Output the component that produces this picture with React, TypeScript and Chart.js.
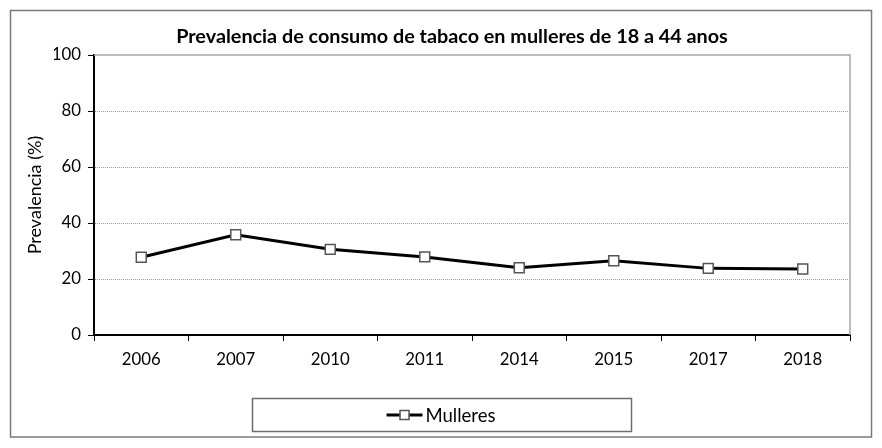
import { useEffect, useRef } from "react";
import { Chart, registerables } from "chart.js";

Chart.register(...registerables);

const categories = ["2006", "2007", "2010", "2011", "2014", "2015", "2017", "2018"];
const mulleres = [27.8, 35.8, 30.6, 27.9, 24.0, 26.5, 23.8, 23.6];
const yTickValues = [0, 20, 40, 60, 80, 100];
const seriesLabel = "Mulleres";
const titleText = "Prevalencia de consumo de tabaco en mulleres de 18 a 44 anos";
const yTitleText = "Prevalencia (%)";

const FONT = "Lato, 'Open Sans', sans-serif";

const framePlugin = {
  id: "frameAndLegend",
  afterDraw(chart: any) {
    const { ctx, chartArea } = chart;
    ctx.save();
    // outer border
    ctx.strokeStyle = "#7a7a7a";
    ctx.lineWidth = 1.5;
    ctx.strokeRect(10.5, 10.5, chart.width - 21, chart.height - 21.5);
    // plot frame top & right
    ctx.strokeStyle = "#a6a6a6";
    ctx.lineWidth = 1.5;
    ctx.beginPath();
    ctx.moveTo(chartArea.left, chartArea.top);
    ctx.lineTo(chartArea.right, chartArea.top);
    ctx.lineTo(chartArea.right, chartArea.bottom);
    ctx.stroke();

    // legend box
    const ds = chart.data.datasets[0];
    const cx = chart.width / 2;
    const boxW = 379;
    const boxH = 33;
    const boxTop = 398.5;
    ctx.strokeStyle = "#6e6e6e";
    ctx.lineWidth = 1.5;
    ctx.strokeRect(Math.round(cx - boxW / 2) + 0.5, boxTop, boxW, boxH);
    const midY = boxTop + boxH / 2;
    ctx.font = `18.5px ${FONT}`;
    const textW = ctx.measureText(ds.label).width;
    const symW = 36;
    const gap = 3;
    const startX = cx - (symW + gap + textW) / 2;
    ctx.strokeStyle = ds.borderColor;
    ctx.lineWidth = ds.borderWidth;
    ctx.beginPath();
    ctx.moveTo(startX, midY);
    ctx.lineTo(startX + symW, midY);
    ctx.stroke();
    ctx.fillStyle = ds.pointBackgroundColor;
    ctx.strokeStyle = ds.pointBorderColor;
    ctx.lineWidth = ds.pointBorderWidth;
    const s = 9;
    ctx.fillRect(startX + symW / 2 - s / 2, midY - s / 2, s, s);
    ctx.strokeRect(startX + symW / 2 - s / 2, midY - s / 2, s, s);
    ctx.fillStyle = "#000";
    ctx.textBaseline = "middle";
    ctx.textAlign = "left";
    ctx.fillText(ds.label, startX + symW + gap, midY + 1);
    ctx.restore();
  },
};

export default function App() {
  const ref = useRef<HTMLCanvasElement | null>(null);

  useEffect(() => {
    if (!ref.current) return;
    const chart = new Chart(ref.current, {
      type: "line",
      data: {
        labels: categories,
        datasets: [
          {
            label: seriesLabel,
            data: mulleres,
            borderColor: "#000000",
            borderWidth: 3,
            pointStyle: "rect",
            pointRadius: 7,
            pointHoverRadius: 7,
            pointBackgroundColor: "#ffffff",
            pointBorderColor: "#555555",
            pointBorderWidth: 1.5,
            tension: 0,
          },
        ],
      },
      options: {
        animation: false,
        responsive: true,
        maintainAspectRatio: false,
        layout: { padding: { left: 54, right: 32, top: 0, bottom: 0 } },
        plugins: {
          legend: { display: false },
          tooltip: { enabled: false },
          title: {
            display: true,
            text: titleText,
            color: "#000",
            font: { family: FONT, size: 19.8, weight: "bold" },
            padding: { top: 25.2, bottom: 6.1 },
          },
        },
        scales: {
          x: {
            type: "category",
            offset: true,
            afterFit: (scale: any) => {
              scale.height = 113;
            },
            grid: {
              offset: true,
              drawOnChartArea: false,
              drawTicks: true,
              tickLength: 6,
              tickColor: "#000",
              tickWidth: 1,
            },
            border: { display: true, color: "#000", width: 2 },
            ticks: {
              color: "#000",
              font: { family: FONT, size: 16.8 },
              padding: 9,
              maxRotation: 0,
            },
          },
          y: {
            min: 0,
            max: 100,
            afterFit: (scale: any) => {
              scale.width = 40;
            },
            afterBuildTicks: (scale: any) => {
              scale.ticks = yTickValues.map((v) => ({ value: v }));
            },
            grid: {
              color: (c: any) =>
                c.tick && (c.tick.value === 0 || c.tick.value === 100) ? "rgba(0,0,0,0)" : "#9c9c9c",
              lineWidth: 1,
              tickLength: 6,
              tickColor: "#000",
              tickWidth: 1,
            },
            border: { display: true, color: "#000", width: 2, dash: [1, 1] },
            ticks: {
              color: "#000",
              font: { family: FONT, size: 16.8 },
              padding: 7,
            },
            title: {
              display: true,
              text: yTitleText,
              color: "#000",
              font: { family: FONT, size: 18 },
              padding: { top: -29.8, bottom: 0 },
            },
          },
        },
      },
      plugins: [framePlugin],
    });
    return () => chart.destroy();
  }, []);

  return (
    <div style={{ position: "absolute", left: 0, top: 0, width: 882, height: 448, background: "#fff" }}>
      <canvas ref={ref} />
    </div>
  );
}
